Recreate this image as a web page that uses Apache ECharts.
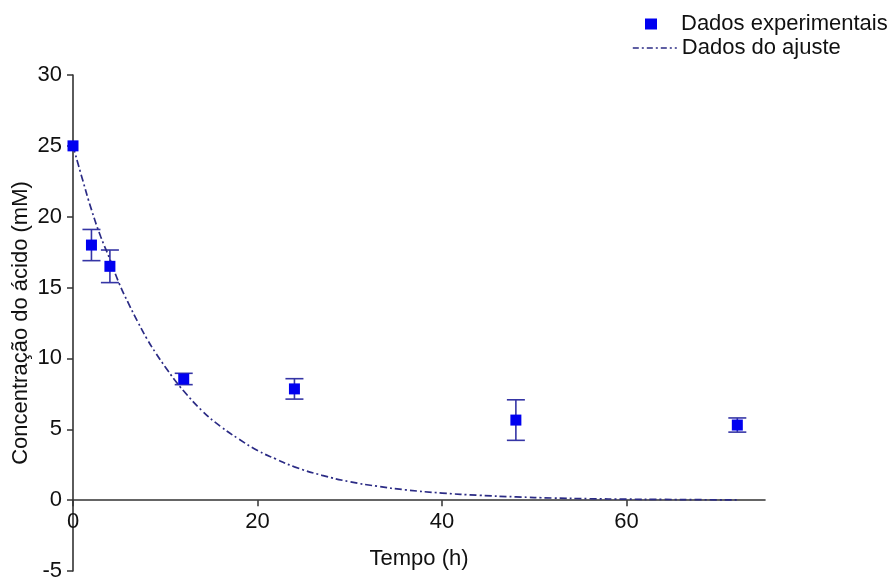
<!DOCTYPE html>
<html>
<head>
<meta charset="utf-8">
<script src="https://cdn.jsdelivr.net/npm/echarts@6/dist/echarts.min.js"></script>
<style>html,body{margin:0;padding:0;background:#fff}#c{width:893px;height:577px}</style>
</head>
<body>
<div id="c"></div>
<script>
// Experimental data
const expTime = [0, 2, 4, 12, 24, 48, 72];
const expConc = [25.0, 18.0, 16.5, 8.55, 7.85, 5.65, 5.3];
const expErr  = [0, 1.1, 1.15, 0.4, 0.72, 1.43, 0.5];
// Fit curve
const fitTime = [0,1,2,3,4,5,6,7,8,9,10,11,12,14,16,18,20,22,24,27,30,33,36,40,44,48,52,56,60,64,68,72];
const fitConc = [25,22.7,20.5,18.6,17.0,15.3,13.9,12.6,11.4,10.35,9.4,8.5,7.7,6.3,5.2,4.3,3.5,2.9,2.35,1.75,1.3,0.98,0.73,0.5,0.34,0.23,0.15,0.1,0.07,0.05,0.03,0.02];
const xTicks = [0, 20, 40, 60];
const seriesNames = ['Dados experimentais', 'Dados do ajuste'];

const FONT = 'Liberation Sans, Arial, sans-serif';
const FS = 22;
const chart = echarts.init(document.getElementById('c'), null, {renderer: 'canvas'});
const errData = expTime.map((t, i) => [t, expConc[i] - expErr[i], expConc[i] + expErr[i]]);

chart.setOption({
  animation: false,
  backgroundColor: '#fff',
  grid: [
    {left: 73, right: 128, top: 75, bottom: 6, containLabel: false, outerBoundsMode: 'none'},
    // helper grid ending at the y = 0 line, used only for x labels and the x name
    {left: 73, right: 128, top: 75, bottom: 77, containLabel: false, outerBoundsMode: 'none'}
  ],
  legend: [
    {data: [seriesNames[0]], left: 640, top: 8, icon: 'rect', itemWidth: 12, itemHeight: 11,
     itemGap: 0, textStyle: {fontFamily: FONT, fontSize: FS, color: '#111', padding: [0,0,0,19]}},
    {data: [seriesNames[1]], left: 627, top: 32, itemWidth: 44, itemHeight: 10,
     itemStyle: {color: 'transparent', borderWidth: 0, opacity: 0},
     lineStyle: {type: [6,3,2,3], width: 1.6, color: '#2b2b85'},
     textStyle: {fontFamily: FONT, fontSize: FS, color: '#111', padding: [0,0,0,0]}}
  ],
  xAxis: [
    {
      gridIndex: 0, type: 'value', min: 0, max: 75, interval: 20,
      axisLine: {onZero: true, lineStyle: {color: '#333', width: 1.6}},
      axisTick: {show: true, length: 6, inside: false, customValues: xTicks, lineStyle: {color: '#333', width: 1.5}},
      axisLabel: {show: false},
      splitLine: {show: false}
    },
    {
      gridIndex: 1, type: 'value', min: 0, max: 75, interval: 20,
      name: 'Tempo (h)', nameLocation: 'middle', nameGap: 48, nameMoveOverlap: false,
      nameTextStyle: {fontFamily: FONT, fontSize: FS, color: '#111'},
      axisLine: {show: false, onZero: false},
      axisTick: {show: false},
      axisLabel: {customValues: xTicks, margin: 11, fontFamily: FONT, fontSize: FS, color: '#111'},
      splitLine: {show: false}
    }
  ],
  yAxis: [
    {
      gridIndex: 0, type: 'value', min: -5, max: 30, interval: 5,
      name: 'Concentração do ácido (mM)', nameLocation: 'middle', nameGap: 41, nameMoveOverlap: false,
      nameTextStyle: {fontFamily: FONT, fontSize: FS, color: '#111'},
      axisLine: {onZero: false, lineStyle: {color: '#333', width: 1.6}},
      axisTick: {show: true, length: 6, lineStyle: {color: '#333', width: 1.5}},
      axisLabel: {margin: 11, fontFamily: FONT, fontSize: FS, color: '#111'},
      splitLine: {show: false}
    },
    {
      gridIndex: 1, type: 'value', min: 0, max: 30, show: false
    }
  ],
  series: [
    {
      name: 'errbars', type: 'custom', z: 2, silent: true,
      data: errData,
      encode: {x: 0, y: [1, 2]},
      renderItem: function (params, api) {
        const x = api.value(0);
        const lo = api.coord([x, api.value(1)]);
        const hi = api.coord([x, api.value(2)]);
        const hw = 9;
        const st = {stroke: '#3535a5', lineWidth: 1.6, fill: null};
        if (Math.abs(hi[1] - lo[1]) < 0.5) return null;
        return {type: 'group', children: [
          {type: 'line', shape: {x1: lo[0], y1: lo[1], x2: hi[0], y2: hi[1]}, style: st},
          {type: 'line', shape: {x1: lo[0]-hw, y1: lo[1], x2: lo[0]+hw, y2: lo[1]}, style: st},
          {type: 'line', shape: {x1: hi[0]-hw, y1: hi[1], x2: hi[0]+hw, y2: hi[1]}, style: st}
        ]};
      }
    },
    {
      name: seriesNames[1], type: 'line', z: 3, smooth: true, symbol: 'none',
      data: fitTime.map((t, i) => [t, fitConc[i]]),
      lineStyle: {color: '#2b2b85', width: 1.7, type: [7,3,2,3]},
      itemStyle: {color: '#2b2b85'}
    },
    {
      name: seriesNames[0], type: 'scatter', z: 4, symbol: 'rect', symbolSize: [11, 11],
      data: expTime.map((t, i) => [t, expConc[i]]),
      itemStyle: {color: '#0000f0', opacity: 1}
    }
  ]
});
</script>
</body>
</html>
